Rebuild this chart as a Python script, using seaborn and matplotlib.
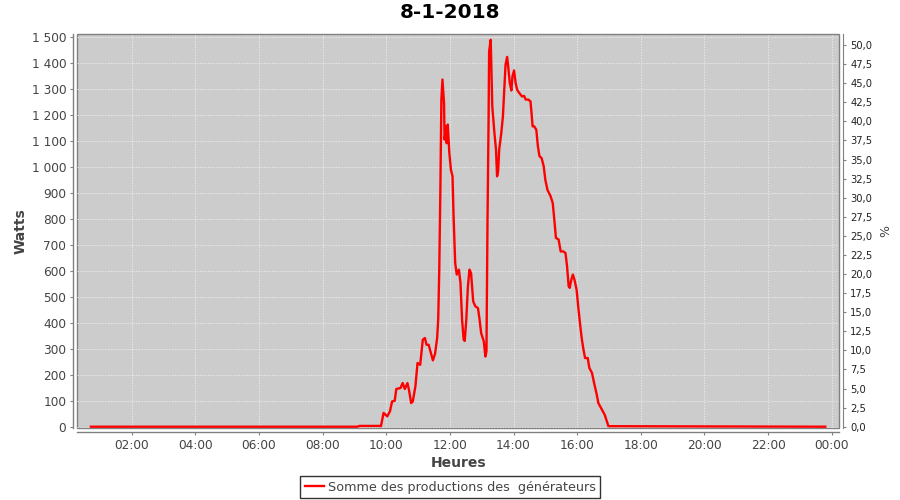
import matplotlib
matplotlib.use("Agg")
import matplotlib.pyplot as plt
import matplotlib.ticker as mticker
import seaborn as sns
import pandas as pd

title = "8-1-2018"
series_name = "Somme des productions des  générateurs"

times = ["00:43", "09:05", "09:10", "09:48", "09:50", "09:55", "10:02", "10:07", "10:11", "10:16",
         "10:19", "10:27", "10:31", "10:35", "10:40", "10:43", "10:47", "10:50", "10:55", "10:59",
         "11:04", "11:09", "11:13", "11:16", "11:20", "11:25", "11:28", "11:32", "11:36", "11:38",
         "11:40", "11:42", "11:44", "11:46", "11:49", "11:50", "11:53", "11:54", "11:56", "11:59",
         "12:02", "12:05", "12:07", "12:10", "12:13", "12:17", "12:20", "12:23", "12:26", "12:28",
         "12:31", "12:34", "12:37", "12:40", "12:44", "12:48", "12:53", "12:56", "12:59", "13:04",
         "13:07", "13:09", "13:11", "13:13", "13:14", "13:17", "13:19", "13:20", "13:24", "13:27",
         "13:29", "13:31", "13:33", "13:37", "13:40", "13:43", "13:45", "13:48", "13:50", "13:53",
         "13:56", "13:58", "14:01", "14:04", "14:07", "14:11", "14:16", "14:20", "14:23", "14:28",
         "14:32", "14:34", "14:36", "14:39", "14:43", "14:46", "14:49", "14:53", "14:57", "15:00",
         "15:04", "15:10", "15:14", "15:17", "15:20", "15:25", "15:29", "15:34", "15:38", "15:41",
         "15:44", "15:46", "15:49", "15:52", "15:55", "15:59", "16:02", "16:06", "16:09", "16:12",
         "16:15", "16:20", "16:23", "16:28", "16:32", "16:37", "16:40", "16:47", "16:52", "16:55",
         "16:59", "23:48"]
watts = [0, 0, 3, 3, 2, 53, 40, 59, 97, 100,
         145, 149, 168, 145, 168, 140, 91, 97, 155, 245,
         238, 335, 341, 315, 315, 277, 255, 280, 341, 412,
         604, 899, 1258, 1335, 1245, 1104, 1155, 1090, 1162, 1053,
         988, 963, 809, 630, 585, 604, 553, 412, 335, 330,
         412, 540, 604, 590, 482, 463, 456, 412, 360, 328,
         270, 290, 796, 1180, 1443, 1488, 1309, 1232, 1130, 1065,
         963, 982, 1065, 1130, 1193, 1309, 1392, 1422, 1385, 1322,
         1293, 1347, 1370, 1322, 1295, 1283, 1270, 1272, 1258, 1258,
         1251, 1206, 1155, 1155, 1142, 1078, 1040, 1033, 1001, 950,
         911, 886, 860, 796, 726, 720, 674, 674, 668, 617,
         540, 534, 565, 585, 565, 527, 463, 386, 335, 296,
         264, 264, 226, 207, 168, 123, 91, 65, 46, 27,
         2, 0]

x_ticks_hours = list(range(2, 25, 2))
left_ticks = list(range(0, 1501, 100))
right_ticks = [i * 2.5 for i in range(21)]

def to_hours(t):
    h, m = t.split(":")
    return int(h) + int(m) / 60.0

df = pd.DataFrame({"heure": [to_hours(t) for t in times], "watts": watts})

fig = plt.figure(figsize=(9, 5), dpi=100)
ax = fig.add_axes([77.3 / 900, 1 - 427.7 / 500, (839.3 - 77.3) / 900, (427.7 - 34.3) / 500])
ax.set_facecolor("#CCCCCC")
ax.patch.set_edgecolor("#808080")
ax.patch.set_linewidth(1.0)

sns.lineplot(data=df, x="heure", y="watts", ax=ax, color="#FF0000", linewidth=1.7,
             estimator=None, sort=False, label=series_name, legend=False)

ax.set_xlim(0.29, 24.24)
ax.set_ylim(-3.8, 1509)
ax.set_xticks(x_ticks_hours)
ax.set_xticklabels([f"{h % 24:02d}:00" for h in x_ticks_hours])
ax.set_yticks(left_ticks)
ax.yaxis.set_major_formatter(mticker.FuncFormatter(lambda v, p: f"{int(v):,}".replace(",", " ")))

ax.grid(True, color="#F4F4F4", linestyle=(0, (2, 2)), linewidth=0.5)
ax.set_axisbelow(True)

off = 4 * 72 / 100
for s in ["top", "right"]:
    ax.spines[s].set_visible(False)
for s in ["left", "bottom"]:
    ax.spines[s].set_position(("outward", off))
    ax.spines[s].set_color("#808080")
    ax.spines[s].set_linewidth(1.0)

ax.tick_params(axis="both", colors="#808080", length=2, width=0.8, labelsize=8.7,
               labelcolor="#444444")
ax.tick_params(axis="y", pad=3)
ax.tick_params(axis="x", pad=3)

ax.set_xlabel("Heures", fontsize=10, fontweight="bold", color="#444444", labelpad=3)
ax.set_ylabel("Watts", fontsize=10, fontweight="bold", color="#444444", labelpad=3)

ax2 = ax.twinx()
ax2.set_ylim(-0.13, 51.4)
ax2.set_yticks(right_ticks)
ax2.yaxis.set_major_formatter(mticker.FuncFormatter(lambda v, p: f"{v:.1f}".replace(".", ",")))
for s in ["top", "left", "bottom"]:
    ax2.spines[s].set_visible(False)
ax2.spines["right"].set_position(("outward", off))
ax2.spines["right"].set_color("#808080")
ax2.tick_params(axis="y", colors="#808080", length=2, width=0.8, labelsize=7.2,
                labelcolor="#222222", pad=3)
ax2.set_ylabel("%", fontsize=9, color="#444444", labelpad=5)

fig.text(450 / 900, 1 - 13 / 500, title, ha="center", va="center", fontsize=14.4,
         fontweight="bold", color="black")

handles, labels = ax.get_legend_handles_labels()
leg = fig.legend(handles, labels, loc="center", bbox_to_anchor=(450 / 900, 1 - 487 / 500),
                 fontsize=9.2, frameon=True, fancybox=False, edgecolor="black",
                 handlelength=1.5, handletextpad=0.3, borderpad=0.35, borderaxespad=0)
leg.get_frame().set_linewidth(1.0)
for t in leg.get_texts():
    t.set_color("#444444")

fig.savefig("out.png", dpi=100)
